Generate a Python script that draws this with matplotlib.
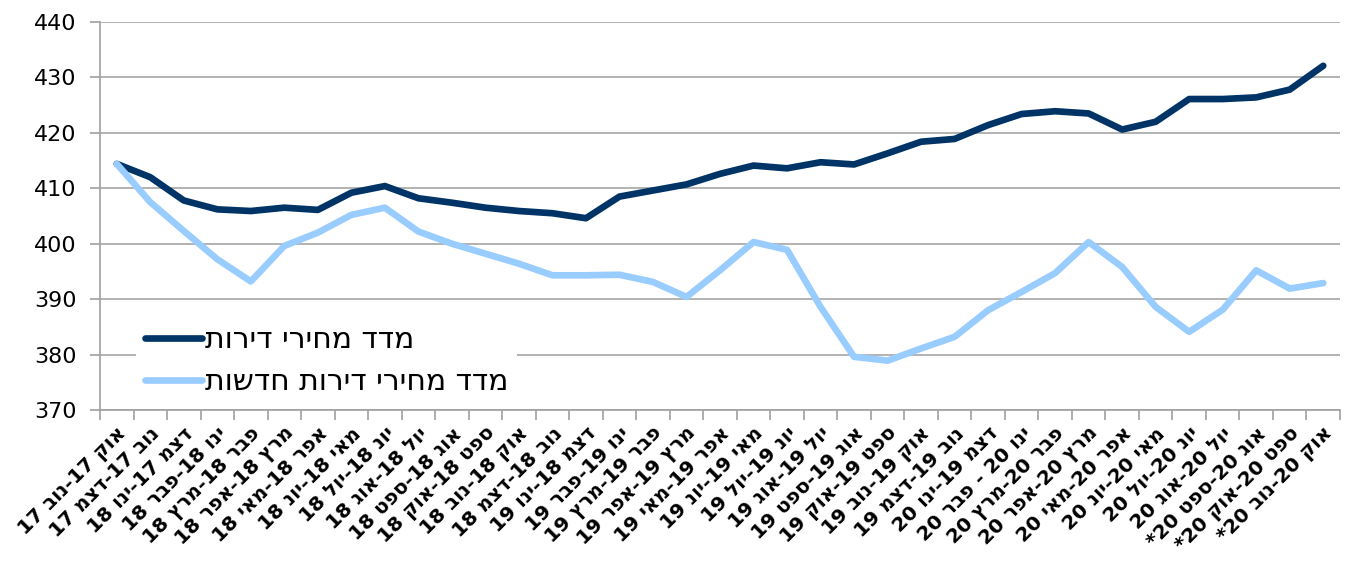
import re
import numpy as np
import matplotlib
matplotlib.use("Agg")
import matplotlib.pyplot as plt
from matplotlib.ticker import FixedLocator

# month-pair labels (logical Hebrew order)
labels = [
    "אוק 17-נוב 17", "נוב 17-דצמ 17", "דצמ 17-ינו 18", "ינו 18-פבר 18",
    "פבר 18-מרץ 18", "מרץ 18-אפר 18", "אפר 18-מאי 18", "מאי 18-יונ 18",
    "יונ 18-יול 18", "יול 18-אוג 18", "אוג 18-ספט 18", "ספט 18-אוק 18",
    "אוק 18-נוב 18", "נוב 18-דצמ 18", "דצמ 18-ינו 19", "ינו 19-פבר 19",
    "פבר 19-מרץ 19", "מרץ 19-אפר 19", "אפר 19-מאי 19", "מאי 19-יונ 19",
    "יונ 19-יול 19", "יול 19-אוג 19", "אוג 19-ספט 19", "ספט 19-אוק 19",
    "אוק 19-נוב 19", "נוב 19-דצמ 19", "דצמ 19-ינו 20", "ינו 20 - פבר 20",
    "פבר 20-מרץ 20", "מרץ 20-אפר 20", "אפר 20-מאי 20", "מאי 20-יונ 20",
    "יונ 20-יול 20", "יול 20-אוג 20", "אוג 20-ספט 20*", "ספט 20-אוק 20*",
    "אוק 20-נוב 20*",
]

all_homes = [414.4, 412.0, 407.8, 406.2, 405.9, 406.5, 406.1, 409.2, 410.4,
             408.2, 407.4, 406.5, 405.9, 405.5, 404.6, 408.5, 409.6, 410.7,
             412.6, 414.1, 413.6, 414.7, 414.3, 416.3, 418.4, 418.9, 421.4,
             423.4, 423.9, 423.5, 420.6, 422.0, 426.1, 426.1, 426.4, 427.8,
             432.1]

new_homes = [414.4, 407.5, 402.3, 397.2, 393.2, 399.6, 402.0, 405.2, 406.5,
             402.2, 400.0, 398.2, 396.4, 394.3, 394.3, 394.4, 393.1, 390.4,
             395.2, 400.3, 398.9, 388.6, 379.6, 378.9, 381.1, 383.2, 388.0,
             391.3, 394.7, 400.3, 395.8, 388.6, 384.1, 388.1, 395.2, 391.9,
             392.9]

series_names = ["מדד מחירי דירות", "מדד מחירי דירות חדשות"]
yticks = [370, 380, 390, 400, 410, 420, 430, 440]


def visual(s):
    # crude RTL -> visual order: reverse, then restore digit runs
    r = s[::-1]
    return re.sub(r"\d+", lambda m: m.group(0)[::-1], r)


plt.rcParams["font.family"] = ["DejaVu Sans"]

fig = plt.figure(figsize=(13.51, 5.65), dpi=100)
ax = fig.add_axes([100 / 1351, 1 - 410 / 565, 1240 / 1351, 388 / 565])

x = np.arange(len(labels))
ax.plot(x, all_homes, color="#003366", lw=4.8, solid_joinstyle="round",
        solid_capstyle="round", label=visual(series_names[0]), zorder=3)
ax.plot(x, new_homes, color="#99CCFF", lw=4.8, solid_joinstyle="round",
        solid_capstyle="round", label=visual(series_names[1]), zorder=3)

ax.set_xlim(-0.5, len(labels) - 0.5)
ax.set_ylim(370, 440)
ax.set_yticks(yticks)
ax.tick_params(axis="y", labelsize=16, length=7, pad=10, color="#A0A0A0",
               width=1.2)
ax.yaxis.grid(True, color="#A6A6A6", lw=1.2)
ax.set_axisbelow(True)

ax.set_xticks(x)
ax.set_xticklabels([visual(l) for l in labels], rotation=45, ha="right",
                   va="top", rotation_mode="anchor", fontsize=14.5,
                   fontweight="bold")
ax.tick_params(axis="x", length=0, pad=10)
ax.xaxis.set_minor_locator(FixedLocator(np.arange(-0.5, len(labels), 1.0)))
ax.tick_params(axis="x", which="minor", length=7, color="#A0A0A0", width=1.2)

for side in ["top", "right"]:
    ax.spines[side].set_visible(False)
for side in ["left", "bottom"]:
    ax.spines[side].set_color("#A0A0A0")
    ax.spines[side].set_linewidth(1.2)

leg = ax.legend(loc="upper left", bbox_to_anchor=(136 / 1351, 1 - 316 / 565),
                bbox_transform=fig.transFigure, fontsize=21.5, handlelength=1.9,
                handletextpad=0.1, labelspacing=0.45, borderpad=0.3,
                frameon=True, fancybox=False, borderaxespad=0)
leg.get_frame().set_facecolor("white")
leg.get_frame().set_edgecolor("none")
leg.get_frame().set_alpha(1)
leg.set_zorder(2)

fig.savefig("out.png", dpi=100)
